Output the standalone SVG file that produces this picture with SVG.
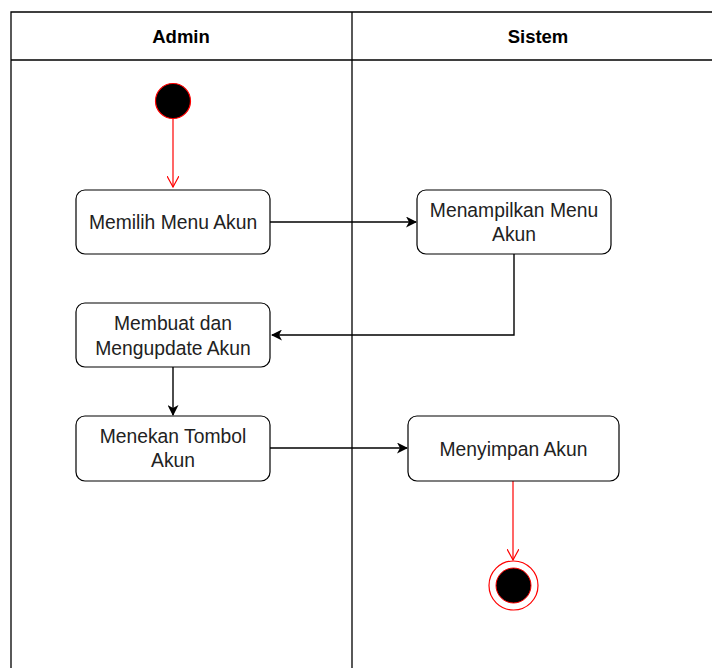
<svg xmlns="http://www.w3.org/2000/svg" width="712" height="668" viewBox="0 0 712 668">
  <style>
    .lane { fill: none; stroke: #000; stroke-width: 1.3; }
    .hdr { font-family: "Liberation Sans", Arial, sans-serif; font-weight: bold; font-size: 18.5px; fill: #000; text-anchor: middle; }
    .act { fill: #fff; stroke: #000; stroke-width: 1.2; }
    .lbl { font-family: "Liberation Sans", Arial, sans-serif; font-size: 19.3px; fill: #222; text-anchor: middle; }
    .flow { fill: none; stroke: #000; stroke-width: 1.4; }
    .ctl { fill: none; stroke: #ff0000; stroke-width: 1.2; }
  </style>
  <defs>
    <marker id="arrow" viewBox="0 0 11 11" refX="10" refY="5.5" markerWidth="11" markerHeight="11" markerUnits="userSpaceOnUse" orient="auto">
      <path d="M0,0 L11,5.5 L0,11 L3,5.5 Z" fill="#000"/>
    </marker>
    <marker id="open" viewBox="0 0 12 12" refX="11" refY="6" markerWidth="12" markerHeight="12" markerUnits="userSpaceOnUse" orient="auto">
      <path d="M0,0 L11,6 L0,12" fill="none" stroke="#ff0000" stroke-width="1.2"/>
    </marker>
  </defs>

  <rect width="712" height="668" fill="#fff"/>

  <!-- swimlanes -->
  <g id="lanes">
    <path class="lane" d="M11,680 V12 H720 M11,60 H720 M352,12 V680"/>
    <text class="hdr" x="181" y="43">Admin</text>
    <text class="hdr" x="538" y="43">Sistem</text>
  </g>

  <!-- connectors -->
  <g id="connectors">
    <path class="ctl" d="M173,119 V187" marker-end="url(#open)"/>
    <path class="flow" d="M270,222 H416" marker-end="url(#arrow)"/>
    <path class="flow" d="M514,254 V335 H272" marker-end="url(#arrow)"/>
    <path class="flow" d="M173,367 V415" marker-end="url(#arrow)"/>
    <path class="flow" d="M270,448 H407" marker-end="url(#arrow)"/>
    <path class="ctl" d="M513,481 V560" marker-end="url(#open)"/>
  </g>

  <g id="start">
    <circle cx="173" cy="101" r="17.5" fill="#000" stroke="#ff0000" stroke-width="1.2"/>
  </g>

  <g id="memilih-menu-akun">
    <rect class="act" x="76" y="190" width="194" height="64" rx="9"/>
    <text class="lbl" x="173" y="229">Memilih Menu Akun</text>
  </g>

  <g id="menampilkan-menu-akun">
    <rect class="act" x="417" y="190" width="194" height="64" rx="9"/>
    <text class="lbl" x="514" y="217">Menampilkan Menu</text>
    <text class="lbl" x="514" y="241">Akun</text>
  </g>

  <g id="membuat-dan-mengupdate-akun">
    <rect class="act" x="76" y="303" width="194" height="64" rx="9"/>
    <text class="lbl" x="173" y="330">Membuat dan</text>
    <text class="lbl" x="173" y="355">Mengupdate Akun</text>
  </g>

  <g id="menekan-tombol-akun">
    <rect class="act" x="76" y="416" width="194" height="65" rx="9"/>
    <text class="lbl" x="173" y="443">Menekan Tombol</text>
    <text class="lbl" x="173" y="467">Akun</text>
  </g>

  <g id="menyimpan-akun">
    <rect class="act" x="408" y="416" width="211" height="65" rx="9"/>
    <text class="lbl" x="513.5" y="456">Menyimpan Akun</text>
  </g>

  <g id="end">
    <circle cx="513.5" cy="585.5" r="24.5" fill="#fff" stroke="#ff0000" stroke-width="1.2"/>
    <circle cx="513.5" cy="585.5" r="17.5" fill="#000" stroke="#ff0000" stroke-width="1"/>
  </g>
</svg>
